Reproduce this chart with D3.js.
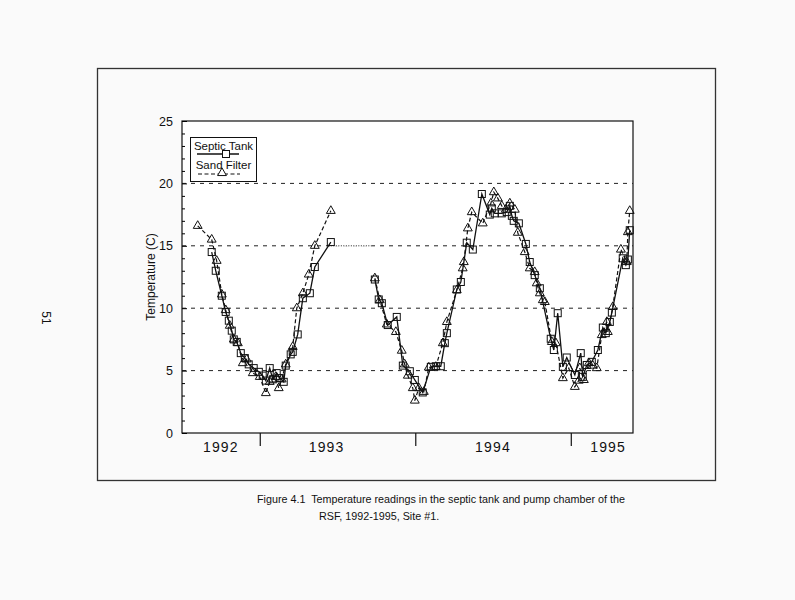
<!DOCTYPE html>
<html><head><meta charset="utf-8">
<script src="https://cdn.jsdelivr.net/npm/d3@7"></script>
<style>
body{margin:0;background:#fafafa}
svg{display:block}
text{font-family:"Liberation Sans",Arial,Helvetica,sans-serif;fill:#111}
</style>
</head><body>
<svg id="chart" width="795" height="600"></svg>
<script>
// ---- data (decimal year, temperature in C) ----
const septicYears1 = [1992.691,1992.717,1992.756,1992.781,1992.801,1992.820,1992.833,1992.852,1992.878,1992.904,1992.929,1992.961,1992.994,1993.019,1993.039,1993.064,1993.084,1993.109,1993.129,1993.154,1993.167,1993.199,1993.212,1993.244,1993.277,1993.322,1993.354,1993.457];
const septicTemps1 = [14.5,13.0,11.0,9.7,9.0,8.2,7.5,7.3,6.4,6.0,5.5,5.2,4.9,4.6,4.2,5.2,4.3,4.8,4.4,4.1,5.4,6.3,6.5,7.9,10.8,11.2,13.3,15.3];
const septicYears2 = [1993.740,1993.765,1993.785,1993.823,1993.881,1993.920,1993.965,1993.997,1994.048,1994.100,1994.132,1994.164,1994.190,1994.203,1994.267,1994.293,1994.331,1994.370,1994.428,1994.479,1994.492,1994.511,1994.556,1994.588,1994.608,1994.621,1994.633,1994.666,1994.711,1994.736,1994.768,1994.801,1994.871,1994.891,1994.916,1994.949,1994.974,1995.026,1995.064,1995.077,1995.103,1995.135,1995.174,1995.206,1995.225,1995.251,1995.264,1995.334,1995.354,1995.367,1995.379];
const septicTemps2 = [12.3,10.7,10.4,8.65,9.3,5.4,4.95,4.25,3.25,5.3,5.35,5.35,7.2,8.0,11.5,12.1,15.25,14.7,19.15,17.5,18.0,17.6,17.6,17.7,18.2,17.4,17.0,16.8,15.15,13.7,12.65,11.6,7.55,6.65,9.6,5.3,6.05,4.65,6.4,4.5,5.45,5.7,6.65,8.45,8.0,8.9,9.65,14.0,13.45,13.9,16.25];
const sandYears1 = [1992.601,1992.691,1992.723,1992.756,1992.781,1992.807,1992.833,1992.859,1992.891,1992.916,1992.955,1993.000,1993.039,1993.064,1993.077,1993.103,1993.122,1993.141,1993.167,1993.212,1993.238,1993.277,1993.315,1993.354,1993.457];
const sandTemps1 = [16.6,15.5,13.8,11.1,9.85,8.6,7.5,7.2,5.6,5.9,4.8,4.5,3.2,4.1,4.3,4.5,3.6,4.3,5.5,6.9,10.0,11.2,12.7,15.0,17.8];
const sandYears2 = [1993.740,1993.772,1993.817,1993.875,1993.913,1993.932,1993.952,1993.984,1993.997,1994.023,1994.055,1994.087,1994.132,1994.177,1994.203,1994.267,1994.305,1994.312,1994.338,1994.363,1994.434,1994.486,1994.505,1994.531,1994.556,1994.582,1994.608,1994.640,1994.659,1994.704,1994.736,1994.768,1994.781,1994.801,1994.820,1994.833,1994.878,1994.904,1994.949,1994.987,1995.026,1995.051,1995.058,1995.084,1995.116,1995.141,1995.167,1995.199,1995.232,1995.238,1995.270,1995.322,1995.360,1995.367,1995.379];
const sandTemps2 = [12.4,10.65,8.7,8.1,6.6,5.5,4.6,3.6,2.6,3.6,3.3,5.25,5.3,7.2,8.9,11.45,13.2,13.7,16.4,17.7,16.8,18.4,19.3,18.8,18.2,17.9,18.4,17.9,16.05,14.5,13.2,12.9,12.0,11.2,10.65,10.5,7.3,7.2,4.4,5.2,3.7,4.2,5.2,4.25,5.6,5.4,5.2,7.85,8.9,8.1,10.1,14.7,13.7,16.1,17.8];

const yTicks = [0,5,10,15,20,25];
const gridValues = [5,10,15,20];
const yearBoundaries = [1993,1994,1995];
const yearLabels = ["1992","1993","1994","1995"];
const yearLabelPos = [1992.75,1993.43,1994.5,1995.24];
const gapLine = {from:1993.457, to:1993.72, temp:15}; // dotted link across data gap
const legendNames = ["Septic Tank","Sand Filter"];
const captionLines = ["Figure 4.1  Temperature readings in the septic tank and pump chamber of the","RSF, 1992-1995, Site #1."];

// ---- layout ----
const svg = d3.select("#chart");
const plot = {left:182, right:633, top:121, bottom:433};
const x = d3.scaleLinear().domain([1992.5,1995.4]).range([plot.left, plot.right]);
const y = d3.scaleLinear().domain([0,25]).range([plot.bottom, plot.top]);

const zip = (xs, ys) => xs.map((v,i)=>({x:v, t:ys[i]}));
const septic = [zip(septicYears1, septicTemps1), zip(septicYears2, septicTemps2)];
const sand = [zip(sandYears1, sandTemps1), zip(sandYears2, sandTemps2)];

// outer frame
svg.append("rect").attr("x",97.5).attr("y",68.5).attr("width",618).attr("height",412)
  .attr("fill","none").attr("stroke","#333").attr("stroke-width",1.3);

// plot box
svg.append("rect").attr("x",plot.left).attr("y",plot.top)
  .attr("width",plot.right-plot.left).attr("height",plot.bottom-plot.top)
  .attr("fill","#fff").attr("stroke","#111").attr("stroke-width",1.2);

// gridlines
const g = svg.append("g");
g.selectAll("line.grid").data(gridValues).join("line")
  .attr("x1",plot.left).attr("x2",plot.right)
  .attr("y1",d=>y(d)).attr("y2",d=>y(d))
  .attr("stroke","#222").attr("stroke-width",1).attr("stroke-dasharray","4,5");
// dotted link segment on the 15 line
g.append("line").attr("x1",x(gapLine.from)).attr("x2",x(gapLine.to))
  .attr("y1",y(gapLine.temp)).attr("y2",y(gapLine.temp))
  .attr("stroke","#fff").attr("stroke-width",2);
g.append("line").attr("x1",x(gapLine.from)).attr("x2",x(gapLine.to))
  .attr("y1",y(gapLine.temp)).attr("y2",y(gapLine.temp))
  .attr("stroke","#222").attr("stroke-width",1).attr("stroke-dasharray","1,1.5");

// y axis
const yAxis = d3.axisLeft(y).tickValues(yTicks).tickSize(-5).tickPadding(9).tickFormat(d3.format("d"));
const ya = svg.append("g").attr("transform",`translate(${plot.left},0)`).call(yAxis);
ya.select(".domain").remove();
ya.selectAll("text").style("font-size","12.5px");
const yMinor = d3.axisLeft(y).tickValues(d3.range(0,26).filter(v=>v%5)).tickSize(-3).tickFormat("");
const ym = svg.append("g").attr("transform",`translate(${plot.left},0)`).call(yMinor);
ym.select(".domain").remove();

// x axis: year separators and labels
const xa = d3.axisBottom(x).tickValues(yearBoundaries).tickSize(13).tickFormat("");
const xg = svg.append("g").attr("transform",`translate(0,${plot.bottom})`).call(xa);
xg.select(".domain").remove();
xg.selectAll("line").attr("stroke","#111").attr("stroke-width",1.2);
svg.selectAll("text.year").data(yearLabels).join("text")
  .attr("class","year").attr("x",(d,i)=>x(yearLabelPos[i])).attr("y",plot.bottom+19)
  .attr("text-anchor","middle").style("font-size","14px").style("letter-spacing","1.2px").text(d=>d);

// y label
svg.append("text").attr("transform",`translate(155,${(plot.top+plot.bottom)/2}) rotate(-90)`)
  .attr("text-anchor","middle").style("font-size","12px").text("Temperature (C)");

// page number
svg.append("text").attr("transform","translate(42,318) rotate(90)")
  .attr("text-anchor","middle").style("font-size","12px").text("51");

// lines
const line = d3.line().x(d=>x(d.x)).y(d=>y(d.t));
svg.selectAll("path.sand").data(sand).join("path").attr("class","sand")
  .attr("d",line).attr("fill","none").attr("stroke","#111").attr("stroke-width",1.2)
  .attr("stroke-dasharray","4,2.5");
svg.selectAll("path.septic").data(septic).join("path").attr("class","septic")
  .attr("d",line).attr("fill","none").attr("stroke","#111").attr("stroke-width",1.3);

// markers
const sq = 7, tri = d3.symbol().type(d3.symbolTriangle).size(34);
svg.selectAll("path.tri").data(sand.flat()).join("path").attr("class","tri")
  .attr("d",tri).attr("transform",d=>`translate(${x(d.x)},${y(d.t)})`)
  .attr("fill","none").attr("stroke","#111").attr("stroke-width",1);
svg.selectAll("rect.sq").data(septic.flat()).join("rect").attr("class","sq")
  .attr("x",d=>x(d.x)-sq/2).attr("y",d=>y(d.t)-sq/2).attr("width",sq).attr("height",sq)
  .attr("fill","none").attr("stroke","#111").attr("stroke-width",1);

// legend
const lg = svg.append("g");
lg.append("rect").attr("x",190.5).attr("y",137.5).attr("width",66).attr("height",44)
  .attr("fill","#fff").attr("stroke","#111").attr("stroke-width",1);
lg.append("line").attr("x1",197).attr("x2",239).attr("y1",154).attr("y2",154)
  .attr("stroke","#111").attr("stroke-width",1.3);
lg.append("rect").attr("x",226-sq/2).attr("y",154-sq/2).attr("width",sq).attr("height",sq)
  .attr("fill","#fff").attr("stroke","#111");
lg.append("line").attr("x1",198).attr("x2",240).attr("y1",174).attr("y2",174)
  .attr("stroke","#111").attr("stroke-width",1.2).attr("stroke-dasharray","4,2.5");
lg.append("path").attr("d",tri).attr("transform","translate(222,173)")
  .attr("fill","#fff").attr("stroke","#111");
lg.selectAll("text").data(legendNames).join("text")
  .attr("x",223.5).attr("y",(d,i)=>150+i*19).attr("text-anchor","middle")
  .style("font-size","11.5px").text(d=>d);

// caption
svg.selectAll("text.cap").data(captionLines).join("text").attr("class","cap")
  .attr("x",(d,i)=>i===0?257:319).attr("y",(d,i)=>503+i*17)
  .style("font-size","10.75px").style("white-space","pre").attr("xml:space","preserve").text(d=>d);
</script>
</body></html>
